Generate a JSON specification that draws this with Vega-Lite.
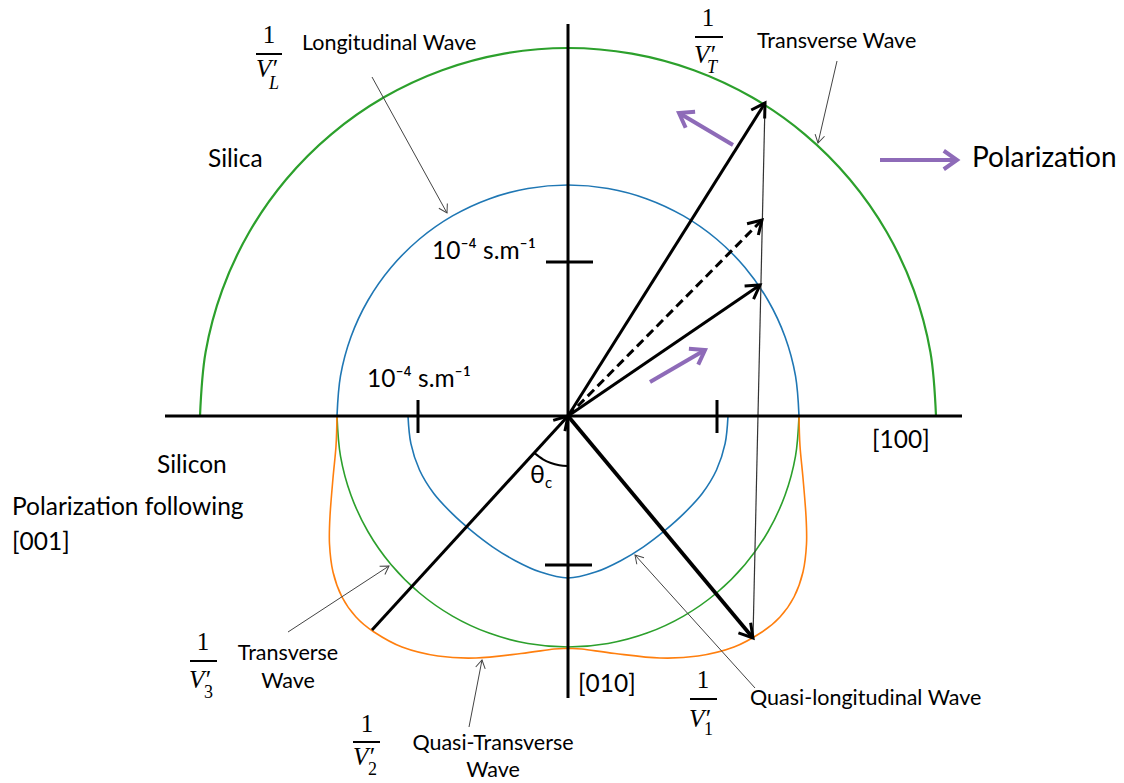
{
  "$schema": "https://vega.github.io/schema/vega-lite/v6.json",
  "width": 1124,
  "height": 783,
  "autosize": {"type": "fit", "contains": "padding"},
  "padding": 0,
  "background": "white",
  "config": {"view": {"stroke": null}},
  "datasets": {
    "curves": [
      {"curve": "green_top", "i": 0, "x": 368, "y": 0},
      {"curve": "green_top", "i": 1, "x": 362.4, "y": 63.9},
      {"curve": "green_top", "i": 2, "x": 345.8, "y": 125.9},
      {"curve": "green_top", "i": 3, "x": 318.7, "y": 184.0},
      {"curve": "green_top", "i": 4, "x": 281.9, "y": 236.5},
      {"curve": "green_top", "i": 5, "x": 236.5, "y": 281.9},
      {"curve": "green_top", "i": 6, "x": 184.0, "y": 318.7},
      {"curve": "green_top", "i": 7, "x": 125.9, "y": 345.8},
      {"curve": "green_top", "i": 8, "x": 63.9, "y": 362.4},
      {"curve": "green_top", "i": 9, "x": 0, "y": 368},
      {"curve": "green_top", "i": 10, "x": -63.9, "y": 362.4},
      {"curve": "green_top", "i": 11, "x": -125.9, "y": 345.8},
      {"curve": "green_top", "i": 12, "x": -184.0, "y": 318.7},
      {"curve": "green_top", "i": 13, "x": -236.5, "y": 281.9},
      {"curve": "green_top", "i": 14, "x": -281.9, "y": 236.5},
      {"curve": "green_top", "i": 15, "x": -318.7, "y": 184.0},
      {"curve": "green_top", "i": 16, "x": -345.8, "y": 125.9},
      {"curve": "green_top", "i": 17, "x": -362.4, "y": 63.9},
      {"curve": "green_top", "i": 18, "x": -368, "y": 0},
      {"curve": "green_bot", "i": 0, "x": -231, "y": 0},
      {"curve": "green_bot", "i": 1, "x": -227.5, "y": -40.1},
      {"curve": "green_bot", "i": 2, "x": -217.1, "y": -79.0},
      {"curve": "green_bot", "i": 3, "x": -200.1, "y": -115.5},
      {"curve": "green_bot", "i": 4, "x": -177.0, "y": -148.5},
      {"curve": "green_bot", "i": 5, "x": -148.5, "y": -177.0},
      {"curve": "green_bot", "i": 6, "x": -115.5, "y": -200.1},
      {"curve": "green_bot", "i": 7, "x": -79.0, "y": -217.1},
      {"curve": "green_bot", "i": 8, "x": -40.1, "y": -227.5},
      {"curve": "green_bot", "i": 9, "x": 0, "y": -231},
      {"curve": "green_bot", "i": 10, "x": 40.1, "y": -227.5},
      {"curve": "green_bot", "i": 11, "x": 79.0, "y": -217.1},
      {"curve": "green_bot", "i": 12, "x": 115.5, "y": -200.1},
      {"curve": "green_bot", "i": 13, "x": 148.5, "y": -177.0},
      {"curve": "green_bot", "i": 14, "x": 177.0, "y": -148.5},
      {"curve": "green_bot", "i": 15, "x": 200.1, "y": -115.5},
      {"curve": "green_bot", "i": 16, "x": 217.1, "y": -79.0},
      {"curve": "green_bot", "i": 17, "x": 227.5, "y": -40.1},
      {"curve": "green_bot", "i": 18, "x": 231, "y": 0},
      {"curve": "blue_top", "i": 0, "x": 231, "y": 0},
      {"curve": "blue_top", "i": 1, "x": 227.5, "y": 40.1},
      {"curve": "blue_top", "i": 2, "x": 217.1, "y": 79.0},
      {"curve": "blue_top", "i": 3, "x": 200.1, "y": 115.5},
      {"curve": "blue_top", "i": 4, "x": 177.0, "y": 148.5},
      {"curve": "blue_top", "i": 5, "x": 148.5, "y": 177.0},
      {"curve": "blue_top", "i": 6, "x": 115.5, "y": 200.1},
      {"curve": "blue_top", "i": 7, "x": 79.0, "y": 217.1},
      {"curve": "blue_top", "i": 8, "x": 40.1, "y": 227.5},
      {"curve": "blue_top", "i": 9, "x": 0, "y": 231},
      {"curve": "blue_top", "i": 10, "x": -40.1, "y": 227.5},
      {"curve": "blue_top", "i": 11, "x": -79.0, "y": 217.1},
      {"curve": "blue_top", "i": 12, "x": -115.5, "y": 200.1},
      {"curve": "blue_top", "i": 13, "x": -148.5, "y": 177.0},
      {"curve": "blue_top", "i": 14, "x": -177.0, "y": 148.5},
      {"curve": "blue_top", "i": 15, "x": -200.1, "y": 115.5},
      {"curve": "blue_top", "i": 16, "x": -217.1, "y": 79.0},
      {"curve": "blue_top", "i": 17, "x": -227.5, "y": 40.1},
      {"curve": "blue_top", "i": 18, "x": -231, "y": 0},
      {"curve": "blue_bot", "i": 0, "x": -160, "y": 0},
      {"curve": "blue_bot", "i": 1, "x": -157.1, "y": -27.7},
      {"curve": "blue_bot", "i": 2, "x": -148.5, "y": -54.0},
      {"curve": "blue_bot", "i": 3, "x": -134.2, "y": -77.5},
      {"curve": "blue_bot", "i": 4, "x": -116.0, "y": -97.4},
      {"curve": "blue_bot", "i": 5, "x": -96.4, "y": -114.9},
      {"curve": "blue_bot", "i": 6, "x": -75.5, "y": -130.8},
      {"curve": "blue_bot", "i": 7, "x": -52.7, "y": -144.7},
      {"curve": "blue_bot", "i": 8, "x": -27.5, "y": -156.1},
      {"curve": "blue_bot", "i": 9, "x": 0, "y": -162},
      {"curve": "blue_bot", "i": 10, "x": 27.5, "y": -156.1},
      {"curve": "blue_bot", "i": 11, "x": 52.7, "y": -144.7},
      {"curve": "blue_bot", "i": 12, "x": 75.5, "y": -130.8},
      {"curve": "blue_bot", "i": 13, "x": 96.4, "y": -114.9},
      {"curve": "blue_bot", "i": 14, "x": 116.0, "y": -97.4},
      {"curve": "blue_bot", "i": 15, "x": 134.2, "y": -77.5},
      {"curve": "blue_bot", "i": 16, "x": 148.5, "y": -54.0},
      {"curve": "blue_bot", "i": 17, "x": 157.1, "y": -27.7},
      {"curve": "blue_bot", "i": 18, "x": 160, "y": 0},
      {"curve": "orange", "i": 0, "x": -231, "y": 0},
      {"curve": "orange", "i": 1, "x": -232, "y": -30},
      {"curve": "orange", "i": 2, "x": -235, "y": -62},
      {"curve": "orange", "i": 3, "x": -238, "y": -100},
      {"curve": "orange", "i": 4, "x": -238.5, "y": -128},
      {"curve": "orange", "i": 5, "x": -235, "y": -156},
      {"curve": "orange", "i": 6, "x": -226, "y": -181},
      {"curve": "orange", "i": 7, "x": -212, "y": -201},
      {"curve": "orange", "i": 8, "x": -194, "y": -216},
      {"curve": "orange", "i": 9, "x": -166, "y": -231},
      {"curve": "orange", "i": 10, "x": -130, "y": -240},
      {"curve": "orange", "i": 11, "x": -92, "y": -242},
      {"curve": "orange", "i": 12, "x": -47, "y": -237.5},
      {"curve": "orange", "i": 13, "x": -14, "y": -233},
      {"curve": "orange", "i": 14, "x": 0, "y": -232.5},
      {"curve": "orange", "i": 15, "x": 14, "y": -233},
      {"curve": "orange", "i": 16, "x": 47, "y": -237.5},
      {"curve": "orange", "i": 17, "x": 92, "y": -242},
      {"curve": "orange", "i": 18, "x": 130, "y": -240},
      {"curve": "orange", "i": 19, "x": 166, "y": -231},
      {"curve": "orange", "i": 20, "x": 194, "y": -216},
      {"curve": "orange", "i": 21, "x": 212, "y": -201},
      {"curve": "orange", "i": 22, "x": 226, "y": -181},
      {"curve": "orange", "i": 23, "x": 235, "y": -156},
      {"curve": "orange", "i": 24, "x": 238.5, "y": -128},
      {"curve": "orange", "i": 25, "x": 238, "y": -100},
      {"curve": "orange", "i": 26, "x": 235, "y": -62},
      {"curve": "orange", "i": 27, "x": 232, "y": -30},
      {"curve": "orange", "i": 28, "x": 231, "y": 0},
      {"curve": "arc", "i": 0, "x": 0, "y": -50},
      {"curve": "arc", "i": 1, "x": -8.7, "y": -49.2},
      {"curve": "arc", "i": 2, "x": -17.1, "y": -47.0},
      {"curve": "arc", "i": 3, "x": -25.0, "y": -43.3},
      {"curve": "arc", "i": 4, "x": -33.8, "y": -36.9}
    ],
    "segs": [
      {"kind": "axis", "x": -403, "y": 0, "x2": 394, "y2": 0},
      {"kind": "axis", "x": 0, "y": 392, "x2": 0, "y2": -282},
      {"kind": "axis", "x": -150, "y": 16, "x2": -150, "y2": -17},
      {"kind": "axis", "x": 149, "y": 16, "x2": 149, "y2": -17},
      {"kind": "axis", "x": -22, "y": 154, "x2": 25, "y2": 154},
      {"kind": "axis", "x": -23, "y": -149, "x2": 24, "y2": -149},
      {"kind": "arrow", "x": 0, "y": 0, "x2": 197, "y2": 313},
      {"kind": "arrow", "x": 0, "y": 0, "x2": 192, "y2": 131},
      {"kind": "arrow", "x": -196, "y": -214, "x2": 0, "y2": 0},
      {"kind": "arrowthick", "x": 0, "y": 0, "x2": 185, "y2": -222},
      {"kind": "dashed", "x": 0, "y": 0, "x2": 194, "y2": 196},
      {"kind": "thin", "x": 197, "y": 313, "x2": 185, "y2": -222},
      {"kind": "pointer", "x": -196, "y": 339, "x2": -121, "y2": 203},
      {"kind": "pointer", "x": 269, "y": 355, "x2": 250, "y2": 273},
      {"kind": "pointer", "x": -280, "y": -216, "x2": -179, "y2": -150},
      {"kind": "pointer", "x": -99, "y": -311, "x2": -86, "y2": -244},
      {"kind": "pointer", "x": 187, "y": -272, "x2": 67, "y2": -139},
      {"kind": "purple", "x": 165, "y": 271, "x2": 111, "y2": 303},
      {"kind": "purple", "x": 82, "y": 34, "x2": 137, "y2": 66},
      {"kind": "purple", "x": 312, "y": 256, "x2": 389, "y2": 256},
      {"kind": "fracbar", "x": -312, "y": 362, "x2": -286, "y2": 362},
      {"kind": "fracbar", "x": 127, "y": 379, "x2": 155, "y2": 379},
      {"kind": "fracbar", "x": -378, "y": -245, "x2": -351, "y2": -245},
      {"kind": "fracbar", "x": -215, "y": -326, "x2": -188, "y2": -326},
      {"kind": "fracbar", "x": 122, "y": -283, "x2": 149, "y2": -283}
    ],
    "heads": [
      {"kind": "big", "x": 197, "y": 313, "angle": 302.2},
      {"kind": "big", "x": 194, "y": 196, "angle": 314.7},
      {"kind": "big", "x": 192, "y": 131, "angle": 325.7},
      {"kind": "big", "x": 185, "y": -222, "angle": 50.2},
      {"kind": "big", "x": 0, "y": 0, "angle": 312.5},
      {"kind": "purple", "x": 111, "y": 303, "angle": 210.6},
      {"kind": "purple", "x": 137, "y": 66, "angle": 329.8},
      {"kind": "purple", "x": 389, "y": 256, "angle": 0},
      {"kind": "small", "x": -121, "y": 203, "angle": 61.1},
      {"kind": "small", "x": 250, "y": 273, "angle": 103.0},
      {"kind": "small", "x": -179, "y": -150, "angle": 326.8},
      {"kind": "small", "x": -86, "y": -244, "angle": 281.0},
      {"kind": "small", "x": 67, "y": -139, "angle": 227.9}
    ],
    "texts": [
      {"role": "label", "x": -266, "y": 366, "text": "Longitudinal  Wave"},
      {"role": "label", "x": 189, "y": 368, "text": "Transverse Wave"},
      {"role": "label", "x": 182, "y": -289, "text": "Quasi-longitudinal  Wave"},
      {"role": "label2", "x": -360, "y": 249, "text": "Silica"},
      {"role": "label2", "x": -411, "y": -57, "text": "Silicon"},
      {"role": "label2", "x": -556, "y": -99, "text": "Polarization following"},
      {"role": "label2", "x": -556, "y": -134, "text": "[001]"},
      {"role": "label2", "x": 304, "y": -32, "text": "[100]"},
      {"role": "label2", "x": 10, "y": -276, "text": "[010]"},
      {"role": "label2", "x": -136, "y": 157, "text": "10⁻⁴ s.m⁻¹"},
      {"role": "label2", "x": -201, "y": 29, "text": "10⁻⁴ s.m⁻¹"},
      {"role": "labelc", "x": -280, "y": -244, "text": "Transverse"},
      {"role": "labelc", "x": -280, "y": -272, "text": "Wave"},
      {"role": "labelc", "x": -75, "y": -334, "text": "Quasi-Transverse"},
      {"role": "labelc", "x": -75, "y": -361, "text": "Wave"},
      {"role": "big", "x": 404, "y": 249, "text": "Polarization"},
      {"role": "num", "x": -299, "y": 373, "text": "1"},
      {"role": "num", "x": 140, "y": 390, "text": "1"},
      {"role": "num", "x": -365, "y": -234, "text": "1"},
      {"role": "num", "x": -201, "y": -316, "text": "1"},
      {"role": "num", "x": 135, "y": -272, "text": "1"},
      {"role": "var", "x": -312, "y": 339, "text": "V′"},
      {"role": "var", "x": 126, "y": 353, "text": "V′"},
      {"role": "var", "x": -379, "y": -272, "text": "V′"},
      {"role": "var", "x": -215, "y": -349, "text": "V′"},
      {"role": "var", "x": 121, "y": -311, "text": "V′"},
      {"role": "sub", "x": -299, "y": 327, "text": "L"},
      {"role": "sub", "x": 139, "y": 343, "text": "T"},
      {"role": "subn", "x": -364, "y": -282, "text": "3"},
      {"role": "subn", "x": -200, "y": -359, "text": "2"},
      {"role": "subn", "x": 136, "y": -319, "text": "1"},
      {"role": "theta", "x": -38, "y": -67, "text": "θ"},
      {"role": "thetasub", "x": -23, "y": -72, "text": "c"}
    ]
  },
  "encoding": {
    "x": {"field": "x", "type": "quantitative", "scale": {"domain": [-568, 556], "nice": false, "zero": false}, "axis": null},
    "y": {"field": "y", "type": "quantitative", "scale": {"domain": [-367, 416], "nice": false, "zero": false}, "axis": null}
  },
  "layer": [
    {
      "data": {"name": "curves"},
      "transform": [{"filter": "datum.curve === 'green_top'"}],
      "mark": {"type": "line", "interpolate": "cardinal", "stroke": "#2ca02c", "strokeWidth": 2.2},
      "encoding": {"order": {"field": "i", "type": "quantitative"}}
    },
    {
      "data": {"name": "curves"},
      "transform": [{"filter": "datum.curve === 'green_bot'"}],
      "mark": {"type": "line", "interpolate": "cardinal", "stroke": "#2ca02c", "strokeWidth": 1.6},
      "encoding": {"order": {"field": "i", "type": "quantitative"}}
    },
    {
      "data": {"name": "curves"},
      "transform": [{"filter": "datum.curve === 'blue_top' || datum.curve === 'blue_bot'"}],
      "mark": {"type": "line", "interpolate": "cardinal", "stroke": "#1f77b4", "strokeWidth": 1.6},
      "encoding": {"detail": {"field": "curve"}, "order": {"field": "i", "type": "quantitative"}}
    },
    {
      "data": {"name": "curves"},
      "transform": [{"filter": "datum.curve === 'orange'"}],
      "mark": {"type": "line", "interpolate": "cardinal", "stroke": "#ff7f0e", "strokeWidth": 1.6},
      "encoding": {"order": {"field": "i", "type": "quantitative"}}
    },
    {
      "data": {"name": "curves"},
      "transform": [{"filter": "datum.curve === 'arc'"}],
      "mark": {"type": "line", "interpolate": "cardinal", "stroke": "black", "strokeWidth": 2},
      "encoding": {"order": {"field": "i", "type": "quantitative"}}
    },
    {
      "data": {"name": "segs"},
      "transform": [{"filter": "datum.kind === 'thin'"}],
      "mark": {"type": "rule", "stroke": "#333333", "strokeWidth": 1.2},
      "encoding": {"x2": {"field": "x2"}, "y2": {"field": "y2"}}
    },
    {
      "data": {"name": "segs"},
      "transform": [{"filter": "datum.kind === 'pointer'"}],
      "mark": {"type": "rule", "stroke": "#444444", "strokeWidth": 1},
      "encoding": {"x2": {"field": "x2"}, "y2": {"field": "y2"}}
    },
    {
      "data": {"name": "segs"},
      "transform": [{"filter": "datum.kind === 'axis'"}],
      "mark": {"type": "rule", "stroke": "black", "strokeWidth": 3},
      "encoding": {"x2": {"field": "x2"}, "y2": {"field": "y2"}}
    },
    {
      "data": {"name": "segs"},
      "transform": [{"filter": "datum.kind === 'arrow'"}],
      "mark": {"type": "rule", "stroke": "black", "strokeWidth": 3},
      "encoding": {"x2": {"field": "x2"}, "y2": {"field": "y2"}}
    },
    {
      "data": {"name": "segs"},
      "transform": [{"filter": "datum.kind === 'arrowthick'"}],
      "mark": {"type": "rule", "stroke": "black", "strokeWidth": 3.8},
      "encoding": {"x2": {"field": "x2"}, "y2": {"field": "y2"}}
    },
    {
      "data": {"name": "segs"},
      "transform": [{"filter": "datum.kind === 'dashed'"}],
      "mark": {"type": "rule", "stroke": "black", "strokeWidth": 3, "strokeDash": [9, 5]},
      "encoding": {"x2": {"field": "x2"}, "y2": {"field": "y2"}}
    },
    {
      "data": {"name": "segs"},
      "transform": [{"filter": "datum.kind === 'purple'"}],
      "mark": {"type": "rule", "stroke": "#8e6bb8", "strokeWidth": 4},
      "encoding": {"x2": {"field": "x2"}, "y2": {"field": "y2"}}
    },
    {
      "data": {"name": "segs"},
      "transform": [{"filter": "datum.kind === 'fracbar'"}],
      "mark": {"type": "rule", "stroke": "black", "strokeWidth": 2},
      "encoding": {"x2": {"field": "x2"}, "y2": {"field": "y2"}}
    },
    {
      "data": {"name": "heads"},
      "transform": [{"filter": "datum.kind === 'big'"}],
      "mark": {"type": "point", "shape": "M-1,-0.6L0,0L-1,0.6", "filled": false, "size": 700, "stroke": "black", "strokeWidth": 3, "opacity": 1},
      "encoding": {"angle": {"field": "angle", "type": "quantitative", "scale": null}}
    },
    {
      "data": {"name": "heads"},
      "transform": [{"filter": "datum.kind === 'purple'"}],
      "mark": {"type": "point", "shape": "M-1,-0.7L0,0L-1,0.7", "filled": false, "size": 700, "stroke": "#8e6bb8", "strokeWidth": 4, "opacity": 1},
      "encoding": {"angle": {"field": "angle", "type": "quantitative", "scale": null}}
    },
    {
      "data": {"name": "heads"},
      "transform": [{"filter": "datum.kind === 'small'"}],
      "mark": {"type": "point", "shape": "M-1,-0.6L0,0L-1,0.6", "filled": false, "size": 260, "stroke": "#444444", "strokeWidth": 1, "opacity": 1},
      "encoding": {"angle": {"field": "angle", "type": "quantitative", "scale": null}}
    },
    {
      "data": {"name": "texts"},
      "transform": [{"filter": "datum.role === 'label'"}],
      "mark": {"type": "text", "font": "Lato", "fontSize": 21.5, "align": "left", "baseline": "alphabetic", "color": "black"},
      "encoding": {"text": {"field": "text"}}
    },
    {
      "data": {"name": "texts"},
      "transform": [{"filter": "datum.role === 'label2'"}],
      "mark": {"type": "text", "font": "Lato", "fontSize": 24.5, "align": "left", "baseline": "alphabetic", "color": "black"},
      "encoding": {"text": {"field": "text"}}
    },
    {
      "data": {"name": "texts"},
      "transform": [{"filter": "datum.role === 'labelc'"}],
      "mark": {"type": "text", "font": "Lato", "fontSize": 21.5, "align": "center", "baseline": "alphabetic", "color": "black"},
      "encoding": {"text": {"field": "text"}}
    },
    {
      "data": {"name": "texts"},
      "transform": [{"filter": "datum.role === 'big'"}],
      "mark": {"type": "text", "font": "Lato", "fontSize": 28, "align": "left", "baseline": "alphabetic", "color": "black"},
      "encoding": {"text": {"field": "text"}}
    },
    {
      "data": {"name": "texts"},
      "transform": [{"filter": "datum.role === 'num'"}],
      "mark": {"type": "text", "font": "Liberation Serif", "fontSize": 25, "align": "center", "baseline": "alphabetic", "color": "black"},
      "encoding": {"text": {"field": "text"}}
    },
    {
      "data": {"name": "texts"},
      "transform": [{"filter": "datum.role === 'var'"}],
      "mark": {"type": "text", "font": "Liberation Serif", "fontSize": 25, "fontStyle": "italic", "align": "left", "baseline": "alphabetic", "color": "black"},
      "encoding": {"text": {"field": "text"}}
    },
    {
      "data": {"name": "texts"},
      "transform": [{"filter": "datum.role === 'sub'"}],
      "mark": {"type": "text", "font": "Liberation Serif", "fontSize": 18, "fontStyle": "italic", "align": "left", "baseline": "alphabetic", "color": "black"},
      "encoding": {"text": {"field": "text"}}
    },
    {
      "data": {"name": "texts"},
      "transform": [{"filter": "datum.role === 'subn'"}],
      "mark": {"type": "text", "font": "Liberation Serif", "fontSize": 18, "align": "left", "baseline": "alphabetic", "color": "black"},
      "encoding": {"text": {"field": "text"}}
    },
    {
      "data": {"name": "texts"},
      "transform": [{"filter": "datum.role === 'theta'"}],
      "mark": {"type": "text", "font": "Lato", "fontSize": 25, "align": "left", "baseline": "alphabetic", "color": "black"},
      "encoding": {"text": {"field": "text"}}
    },
    {
      "data": {"name": "texts"},
      "transform": [{"filter": "datum.role === 'thetasub'"}],
      "mark": {"type": "text", "font": "Lato", "fontSize": 15, "align": "left", "baseline": "alphabetic", "color": "black"},
      "encoding": {"text": {"field": "text"}}
    }
  ]
}
